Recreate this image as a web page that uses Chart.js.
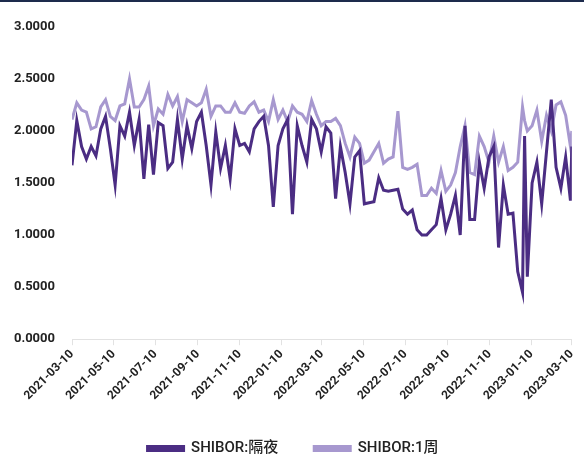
<!DOCTYPE html>
<html>
	<head>
	<meta charset="UTF-8">
	<title>SHIBOR</title>
		<script src="https://cdn.jsdelivr.net/npm/chart.js@4.4.0/dist/chart.umd.min.js"></script>
		<style>
			body { margin: 0; background: #fff; overflow: hidden; }
			#wrap { width: 584px; height: 466px; border-top: 2px solid #1d2b4c; box-sizing: border-box; }
		</style>
	</head>
	<body>
		<div id="wrap"><canvas id="myChart" width="584" height="464"></canvas></div>
		<script>
			// weekly readings, plus a couple of spike days
			const dates = [
				'2021-03-10','2021-03-17','2021-03-24','2021-03-31','2021-04-07','2021-04-14','2021-04-21','2021-04-28',
				'2021-05-05','2021-05-12','2021-05-19','2021-05-26','2021-06-02','2021-06-09','2021-06-16','2021-06-23',
				'2021-06-30','2021-07-07','2021-07-14','2021-07-21','2021-07-28','2021-08-04','2021-08-11','2021-08-18',
				'2021-08-25','2021-09-01','2021-09-08','2021-09-15','2021-09-22','2021-09-29','2021-10-06','2021-10-13',
				'2021-10-20','2021-10-27','2021-11-03','2021-11-10','2021-11-17','2021-11-24','2021-12-01','2021-12-08',
				'2021-12-15','2021-12-22','2021-12-29','2022-01-05','2022-01-12','2022-01-19','2022-01-26','2022-02-02',
				'2022-02-09','2022-02-16','2022-02-23','2022-03-02','2022-03-09','2022-03-16','2022-03-23','2022-03-30',
				'2022-04-06','2022-04-13','2022-04-20','2022-04-27','2022-05-04','2022-05-11','2022-05-18','2022-05-25',
				'2022-06-01','2022-06-08','2022-06-15','2022-06-22','2022-06-29','2022-07-06','2022-07-13','2022-07-20',
				'2022-07-27','2022-08-03','2022-08-10','2022-08-17','2022-08-24','2022-08-31','2022-09-07','2022-09-14',
				'2022-09-21','2022-09-28','2022-10-05','2022-10-12','2022-10-19','2022-10-26','2022-11-02','2022-11-09',
				'2022-11-16','2022-11-23','2022-11-30','2022-12-07','2022-12-14','2022-12-21','2022-12-28','2022-12-31',
				'2023-01-04','2023-01-11','2023-01-18','2023-01-25','2023-02-01','2023-02-08','2023-02-15','2023-02-22',
				'2023-03-01','2023-03-08','2023-03-10'
			];
			const overnight = [
				1.67,2.10,1.85,1.73,1.85,1.76,2.02,2.14,
				1.83,1.48,2.05,1.95,2.18,1.86,2.11,1.54,
				2.06,1.58,2.08,2.05,1.64,1.70,2.11,1.73,
				2.05,1.83,2.09,2.18,1.86,1.48,1.99,1.64,
				1.86,1.54,2.02,1.86,1.88,1.80,2.02,2.09,
				2.14,1.86,1.27,1.86,2.02,2.11,1.20,2.05,
				1.86,1.70,2.11,2.02,1.80,2.04,1.98,1.35,
				1.85,1.60,1.30,1.75,1.81,1.30,1.31,1.32,
				1.55,1.43,1.42,1.43,1.44,1.25,1.20,1.24,
				1.05,1.00,1.00,1.05,1.10,1.35,1.05,1.20,
				1.38,1.00,2.05,1.15,1.15,1.70,1.45,1.75,
				1.85,0.88,1.48,1.20,1.21,0.65,0.45,1.95,
				0.60,1.50,1.70,1.30,1.80,2.30,1.65,1.45,
				1.75,1.33,1.85
			];
			const oneWeek = [
				2.11,2.27,2.20,2.18,2.02,2.04,2.23,2.30,
				2.14,2.10,2.24,2.26,2.50,2.23,2.23,2.30,
				2.43,2.05,2.21,2.16,2.35,2.24,2.33,2.09,
				2.30,2.27,2.24,2.27,2.40,2.14,2.24,2.24,
				2.18,2.18,2.27,2.18,2.17,2.24,2.28,2.18,
				2.20,2.09,2.30,2.11,2.20,2.09,2.24,2.18,
				2.16,2.09,2.29,2.16,2.05,2.09,2.09,2.12,
				2.05,1.88,1.75,1.94,1.88,1.69,1.72,1.80,
				1.88,1.69,1.73,1.75,2.19,1.65,1.63,1.65,
				1.68,1.38,1.38,1.45,1.40,1.62,1.42,1.48,
				1.60,1.85,2.05,1.60,1.58,1.95,1.85,1.70,
				1.95,1.70,1.85,1.62,1.65,1.70,2.23,2.10,
				2.00,2.05,2.20,1.90,2.15,2.00,2.25,2.28,
				2.15,1.85,2.00
			];
			const tickLabels = ['2021-03-10','2021-05-10','2021-07-10','2021-09-10','2021-11-10','2022-01-10','2022-03-10',
				'2022-05-10','2022-07-10','2022-09-10','2022-11-10','2023-01-10','2023-03-10'];
			const seriesNames = ['SHIBOR:隔夜', 'SHIBOR:1周'];

			const start = Date.parse(dates[0]);
			function dayOf(d){
				return Math.round((Date.parse(d) - start) / 86400000);
			}
			const tickDays = tickLabels.map(dayOf);

			let fontFamily = "Roboto, 'Noto Sans CJK SC', sans-serif";
			let ctx = document.getElementById('myChart').getContext('2d');
			let myChart = new Chart(ctx, {
				type: 'line',
				data: {
					datasets: [{
						label: seriesNames[0],
						data: dates.map((d, i) => ({x: dayOf(d), y: overnight[i]})),
						borderColor: '#4b2d83',
						backgroundColor: '#4b2d83',
						borderWidth: 3,
						pointRadius: 0,
						tension: 0
					},{
						label: seriesNames[1],
						data: dates.map((d, i) => ({x: dayOf(d), y: oneWeek[i]})),
						borderColor: '#a798cf',
						backgroundColor: '#a798cf',
						borderWidth: 3,
						pointRadius: 0,
						tension: 0
					}]
				},
				options: {
					responsive: false,
					animation: false,
					layout: { padding: { left: 6, right: 4, top: 12, bottom: 0 } },
					plugins: {
						tooltip: { enabled: false },
						legend: {
							position: 'bottom',
							labels: {
								boxWidth: 36,
								boxHeight: 4,
								padding: 36,
								color: '#222',
								font: { family: fontFamily, size: 15, weight: 500 }
							}
						}
					},
					scales: {
						x: {
							type: 'linear',
							min: tickDays[0],
							max: tickDays[tickDays.length - 1],
							afterBuildTicks: function(axis){
								axis.ticks = tickDays.map(v => ({value: v}));
							},
							grid: { display: true, drawOnChartArea: false, drawTicks: true, tickLength: 6, color: '#e2e2e2' },
							border: { display: true, color: '#e2e2e2' },
							ticks: {
								autoSkip: false,
								minRotation: 45,
								maxRotation: 45,
								color: '#222',
								padding: 2,
								font: { family: fontFamily, size: 12, weight: 'bold' },
								callback: function(v){
									const i = tickDays.indexOf(v);
									return i >= 0 ? tickLabels[i] : '';
								}
							}
						},
						y: {
							min: 0,
							max: 3,
							afterFit: function(axis){ axis.width = 66; },
							grid: { display: false, drawTicks: false },
							border: { display: false },
							ticks: {
								stepSize: 0.5,
								color: '#222',
								padding: 17,
								font: { family: fontFamily, size: 13, weight: 'bold' },
								callback: function(v){ return v.toFixed(4); }
							}
						}
					}
				}
			});
		</script>
	</body>
</html>
